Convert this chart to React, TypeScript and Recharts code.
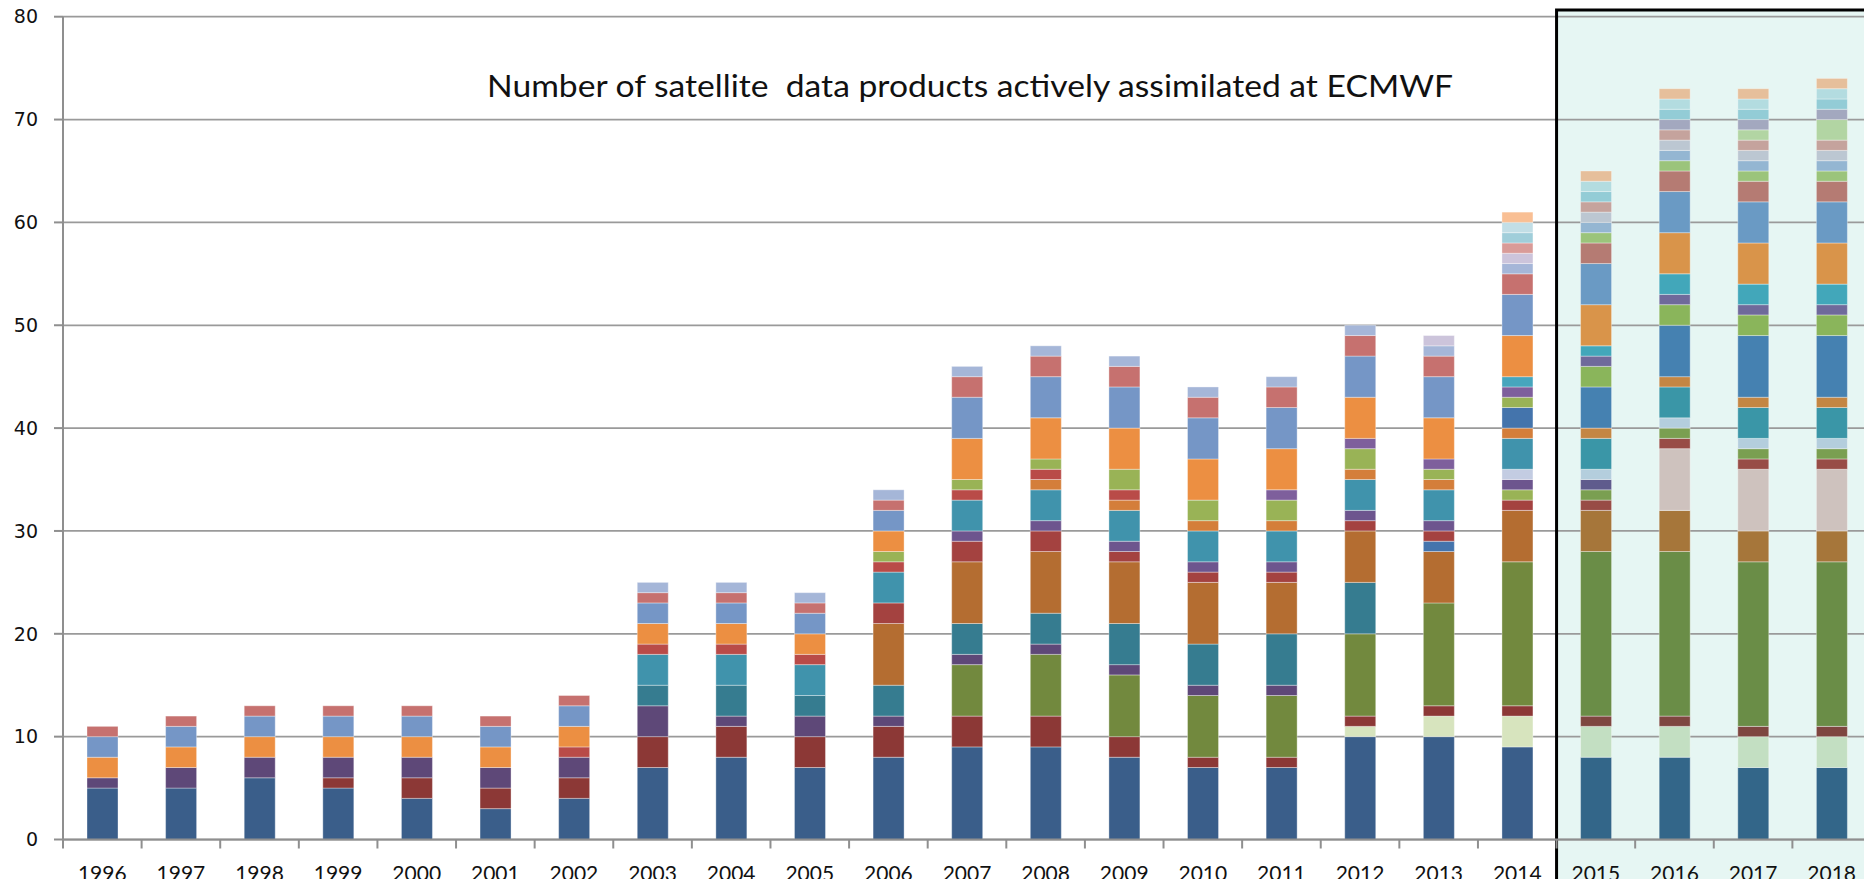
import React from "react";
import { BarChart, Bar, XAxis, YAxis, CartesianGrid, Cell, ReferenceArea } from "recharts";

// colours used up to 2014 (Excel 2007 style)
const OLD = {
  blue: "#3A5E8A",
  dred: "#8C3836",
  purp: "#5E4878",
  orng: "#EC8F42",
  lblu: "#7596C6",
  pink: "#C6716F",
  red: "#B94B48",
  dtea: "#367C90",
  teal: "#4093AC",
  pblu: "#A5B6D8",
  brwn: "#B46D31",
  dre2: "#A44240",
  lgrn: "#99B356",
  oliv: "#72893E",
  pur2: "#6D558E",
  obrn: "#D47E3A",
  pur3: "#7E5F9C",
  pgrn: "#D7E4BE",
  blu2: "#4474AC",
  lav: "#CCC4DB",
  lav2: "#C3CCE2",
  tea2: "#47A5BD",
  rosy: "#D99B98",
  ltea: "#A0CEDA",
  pcya: "#C2DEE6",
  peach: "#F9BF94",
};

// colours used from 2015 (highlighted box)
const NEW = {
  blue: "#336689",
  pgrn: "#C3DFC2",
  dred: "#7E4640",
  grn: "#6A8D47",
  brwn: "#A6763A",
  taupe: "#CEC2BE",
  dre2: "#984C46",
  grn2: "#7A9F51",
  purp: "#5F5B8D",
  lstl: "#B4CEDD",
  teal: "#3A96A7",
  obrn: "#C48643",
  sblu: "#4581B1",
  lgrn: "#8AB55B",
  pur2: "#6F6A9B",
  tea2: "#42A7BA",
  orng: "#D9944A",
  blu3: "#6A9AC4",
  rbrn: "#B57B73",
  lgr3: "#9BC47B",
  lsb: "#94B6D2",
  silv: "#BCC7D2",
  rosy: "#C5A39D",
  pgr2: "#B2D5A3",
  gpur: "#A3A8BF",
  ltea: "#93CCD6",
  pcya: "#B3DCE0",
  peach: "#E6BF9B",
};

const years = [
  "1996", "1997", "1998", "1999", "2000", "2001", "2002", "2003", "2004", "2005", "2006", "2007",
  "2008", "2009", "2010", "2011", "2012", "2013", "2014", "2015", "2016", "2017", "2018",
];

const yTicks = [0, 10, 20, 30, 40, 50, 60, 70, 80];

// products per year, stacked from the bottom up
const v1996 = [5, 1, 2, 2, 1];
const v1997 = [5, 2, 2, 2, 1];
const v1998 = [6, 2, 2, 2, 1];
const v1999 = [5, 1, 2, 2, 2, 1];
const v2000 = [4, 2, 2, 2, 2, 1];
const v2001 = [3, 2, 2, 2, 2, 1];
const v2002 = [4, 2, 2, 1, 2, 2, 1];
const v2003 = [7, 3, 3, 2, 3, 1, 2, 2, 1, 1];
const v2004 = [8, 3, 1, 3, 3, 1, 2, 2, 1, 1];
const v2005 = [7, 3, 2, 2, 3, 1, 2, 2, 1, 1];
const v2006 = [8, 3, 1, 3, 6, 2, 3, 1, 1, 2, 2, 1, 1];
const v2007 = [9, 3, 5, 1, 3, 6, 2, 1, 3, 1, 1, 4, 4, 2, 1];
const v2008 = [9, 3, 6, 1, 3, 6, 2, 1, 3, 1, 1, 1, 4, 4, 2, 1];
const v2009 = [8, 2, 6, 1, 4, 6, 1, 1, 3, 1, 1, 2, 4, 4, 2, 1];
const v2010 = [7, 1, 6, 1, 4, 6, 1, 1, 3, 1, 2, 4, 4, 2, 1];
const v2011 = [7, 1, 6, 1, 5, 5, 1, 1, 3, 1, 2, 1, 4, 4, 2, 1];
const v2012 = [10, 1, 1, 8, 5, 5, 1, 1, 3, 1, 2, 1, 4, 4, 2, 1];
const v2013 = [10, 2, 1, 10, 5, 1, 1, 1, 3, 1, 1, 1, 4, 4, 2, 1, 1];
const v2014 = [9, 3, 1, 14, 5, 1, 1, 1, 1, 3, 1, 2, 1, 1, 1, 4, 4, 2, 1, 1, 1, 1, 1, 1];
const v2015 = [8, 3, 1, 16, 4, 1, 1, 1, 1, 3, 1, 4, 2, 1, 1, 4, 4, 2, 1, 1, 1, 1, 1, 1, 1];
const v2016 = [8, 3, 1, 16, 4, 6, 1, 1, 1, 3, 1, 5, 2, 1, 2, 4, 4, 2, 1, 1, 1, 1, 1, 1, 1, 1];
const v2017 = [7, 3, 1, 16, 3, 6, 1, 1, 1, 3, 1, 6, 2, 1, 2, 4, 4, 2, 1, 1, 1, 1, 1, 1, 1, 1, 1];
const v2018 = [7, 3, 1, 16, 3, 6, 1, 1, 1, 3, 1, 6, 2, 1, 2, 4, 4, 2, 1, 1, 1, 1, 2, 1, 1, 1, 1];

const O = OLD;
const N = NEW;
const cEarly = [O.blue, O.purp, O.orng, O.lblu, O.pink];
const cMid = [O.blue, O.dred, O.purp, O.orng, O.lblu, O.pink];
const c2002 = [O.blue, O.dred, O.purp, O.red, O.orng, O.lblu, O.pink];
const c2003 = [O.blue, O.dred, O.purp, O.dtea, O.teal, O.red, O.orng, O.lblu, O.pink, O.pblu];
const c2006 = [O.blue, O.dred, O.purp, O.dtea, O.brwn, O.dre2, O.teal, O.red, O.lgrn, O.orng, O.lblu, O.pink, O.pblu];
const c2007 = [O.blue, O.dred, O.oliv, O.purp, O.dtea, O.brwn, O.dre2, O.pur2, O.teal, O.red, O.lgrn, O.orng, O.lblu, O.pink, O.pblu];
const c2008 = [O.blue, O.dred, O.oliv, O.purp, O.dtea, O.brwn, O.dre2, O.pur2, O.teal, O.obrn, O.red, O.lgrn, O.orng, O.lblu, O.pink, O.pblu];
const c2010 = [O.blue, O.dred, O.oliv, O.purp, O.dtea, O.brwn, O.dre2, O.pur2, O.teal, O.obrn, O.lgrn, O.orng, O.lblu, O.pink, O.pblu];
const c2011 = [O.blue, O.dred, O.oliv, O.purp, O.dtea, O.brwn, O.dre2, O.pur2, O.teal, O.obrn, O.lgrn, O.pur3, O.orng, O.lblu, O.pink, O.pblu];
const c2012 = [O.blue, O.pgrn, O.dred, O.oliv, O.dtea, O.brwn, O.dre2, O.pur2, O.teal, O.obrn, O.lgrn, O.pur3, O.orng, O.lblu, O.pink, O.pblu];
const c2013 = [O.blue, O.pgrn, O.dred, O.oliv, O.brwn, O.blu2, O.dre2, O.pur2, O.teal, O.obrn, O.lgrn, O.pur3, O.orng, O.lblu, O.pink, O.pblu, O.lav];
const c2014 = [O.blue, O.pgrn, O.dred, O.oliv, O.brwn, O.dre2, O.lgrn, O.pur2, O.lav2, O.teal, O.obrn, O.blu2, O.lgrn, O.pur3, O.tea2, O.orng, O.lblu, O.pink, O.pblu, O.lav, O.rosy, O.ltea, O.pcya, O.peach];
const c2015 = [N.blue, N.pgrn, N.dred, N.grn, N.brwn, N.dre2, N.grn2, N.purp, N.lstl, N.teal, N.obrn, N.sblu, N.lgrn, N.pur2, N.tea2, N.orng, N.blu3, N.rbrn, N.lgr3, N.lsb, N.silv, N.rosy, N.ltea, N.pcya, N.peach];
const c2016 = [N.blue, N.pgrn, N.dred, N.grn, N.brwn, N.taupe, N.dre2, N.grn2, N.lstl, N.teal, N.obrn, N.sblu, N.lgrn, N.pur2, N.tea2, N.orng, N.blu3, N.rbrn, N.lgr3, N.lsb, N.silv, N.rosy, N.gpur, N.ltea, N.pcya, N.peach];
const c2017 = [N.blue, N.pgrn, N.dred, N.grn, N.brwn, N.taupe, N.dre2, N.grn2, N.lstl, N.teal, N.obrn, N.sblu, N.lgrn, N.pur2, N.tea2, N.orng, N.blu3, N.rbrn, N.lgr3, N.lsb, N.silv, N.rosy, N.pgr2, N.gpur, N.ltea, N.pcya, N.peach];

const stacks = [
  v1996, v1997, v1998, v1999, v2000, v2001, v2002, v2003, v2004, v2005, v2006, v2007,
  v2008, v2009, v2010, v2011, v2012, v2013, v2014, v2015, v2016, v2017, v2018,
];
const stackColors = [
  cEarly, cEarly, cEarly, cMid, cMid, cMid, c2002, c2003, c2003, c2003, c2006, c2007,
  c2008, c2008, c2010, c2011, c2012, c2013, c2014, c2015, c2016, c2017, c2017,
];

const SEGMENTS = Math.max(...stacks.map((s) => s.length));
const seriesKeys = Array.from({ length: SEGMENTS }, (_, i) => `s${i}`);

const data = years.map((year, yi) => {
  const row: Record<string, string | number> = { year };
  seriesKeys.forEach((k, i) => {
    row[k] = stacks[yi][i] ?? 0;
  });
  return row;
});

// layout
const WIDTH = 1880;
const HEIGHT = 879;
const PLOT_LEFT = 63;
const PLOT_TOP = 16.7;
const PLOT_BOTTOM = 839.5;
const PLOT_RIGHT = 1871;
const X_AXIS_H = 30;
const BAND = (PLOT_RIGHT - PLOT_LEFT) / years.length;
const HIGHLIGHT_FROM = years.indexOf("2015");
const AXIS = "#8f8f8f";

function YearTick(props: any) {
  const { x, y, payload } = props;
  return (
    <g>
      <line x1={x - BAND / 2} x2={x - BAND / 2} y1={y - 9} y2={y} stroke={AXIS} strokeWidth={2} />
      <text
        x={x}
        y={y + 18}
        dy="0.71em"
        textAnchor="middle"
        fontSize={21}
        fontFamily="Lato, 'Open Sans', sans-serif"
        fill="#111"
      >
        {payload.value}
      </text>
    </g>
  );
}

export default function App() {
  return (
    <div style={{ position: "relative", width: 1864, height: 879, overflow: "hidden", background: "#fff" }}>
      <style>{"body{margin:0;overflow:hidden;background:#fff}"}</style>
      {/* shaded background of the 2015-2018 box */}
      <div
        style={{
          position: "absolute",
          left: PLOT_LEFT + HIGHLIGHT_FROM * BAND,
          top: 10,
          width: 400,
          height: 900,
          background: "#E6F6F3",
        }}
      />
      <div style={{ position: "absolute", left: 0, top: 0 }}>
        <BarChart
          width={WIDTH}
          height={HEIGHT}
          data={data}
          margin={{
            top: PLOT_TOP,
            right: WIDTH - PLOT_RIGHT,
            bottom: HEIGHT - PLOT_BOTTOM - X_AXIS_H,
            left: 0,
          }}
        >
          <CartesianGrid vertical={false} stroke="#9a9a9a" strokeWidth={1.75} />
          <XAxis
            dataKey="year"
            interval={0}
            height={X_AXIS_H}
            tickSize={9}
            tickMargin={0}
            tickLine={false}
            axisLine={{ stroke: AXIS, strokeWidth: 2 }}
            tick={(p: any) => <YearTick {...p} />}
          />
          <YAxis
            domain={[0, 80]}
            ticks={yTicks}
            interval={0}
            width={PLOT_LEFT}
            tickSize={9}
            tickMargin={16}
            axisLine={{ stroke: AXIS, strokeWidth: 2 }}
            tickLine={{ stroke: AXIS, strokeWidth: 2 }}
            tick={{ fill: "#111", fontSize: 19, fontFamily: "'DejaVu Sans', Verdana, sans-serif" }}
          />
          {seriesKeys.map((key, i) => (
            <Bar key={key} dataKey={key} stackId="a" barSize={31} isAnimationActive={false}>
              {data.map((row, yi) => (
                <Cell
                  key={`${key}-${yi}`}
                  fill={stackColors[yi][i] ?? "transparent"}
                  stroke={(row[key] as number) > 0 ? "rgba(255,255,255,0.35)" : "none"}
                  strokeWidth={1}
                />
              ))}
            </Bar>
          ))}
          <ReferenceArea
            x1="2015"
            x2="2018"
            y1={-6}
            y2={80.65}
            ifOverflow="visible"
            fill="none"
            stroke="#000"
            strokeWidth={3}
          />
        </BarChart>
      </div>
      <svg style={{ position: "absolute", left: 0, top: 0 }} width={1864} height={879}>
        <text
          x={487}
          y={97}
          fontSize={30}
          fontFamily="Lato, 'Open Sans', sans-serif"
          fill="#111"
          textLength={966}
          lengthAdjust="spacingAndGlyphs"
          style={{ whiteSpace: "pre" }}
        >
          {"Number of satellite  data products actively assimilated at ECMWF"}
        </text>
      </svg>
    </div>
  );
}
